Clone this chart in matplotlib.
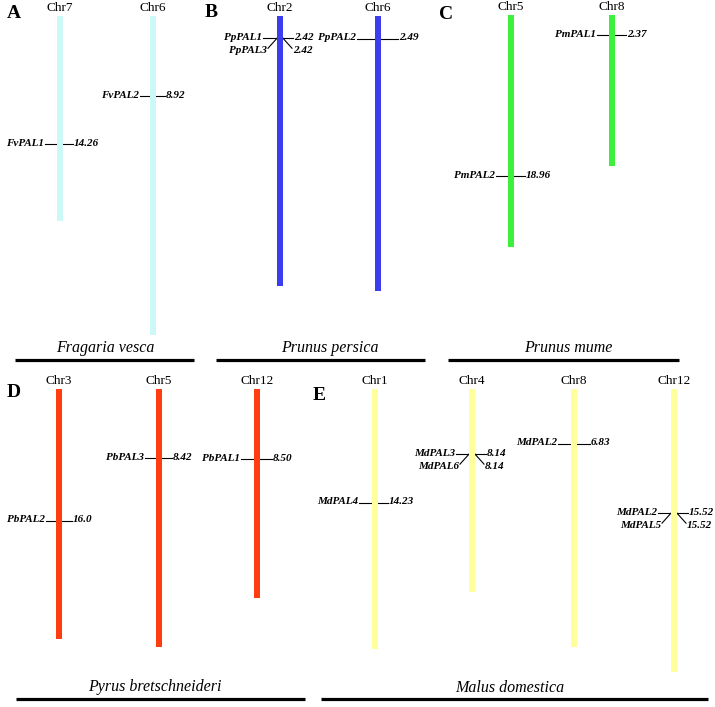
import matplotlib.pyplot as plt

plt.rcParams['font.family'] = ['Liberation Serif', 'DejaVu Serif']

# chromosome lengths (Mb) and PAL gene positions (Mb), one set per species
fv_chr = ['Chr7', 'Chr6']
fv_len = [22.8, 35.4]
fv_gene = ['FvPAL1', 'FvPAL2']
fv_gene_chr = ['Chr7', 'Chr6']
fv_gene_pos = ['14.26', '8.92']

pp_chr = ['Chr2', 'Chr6']
pp_len = [29.3, 29.9]
pp_gene = ['PpPAL1', 'PpPAL3', 'PpPAL2']
pp_gene_chr = ['Chr2', 'Chr2', 'Chr6']
pp_gene_pos = ['2.42', '2.42', '2.49']

pm_chr = ['Chr5', 'Chr8']
pm_len = [27.3, 17.8]
pm_gene = ['PmPAL2', 'PmPAL1']
pm_gene_chr = ['Chr5', 'Chr8']
pm_gene_pos = ['18.96', '2.37']

pb_chr = ['Chr3', 'Chr5', 'Chr12']
pb_len = [30.3, 31.3, 25.3]
pb_gene = ['PbPAL2', 'PbPAL3', 'PbPAL1']
pb_gene_chr = ['Chr3', 'Chr5', 'Chr12']
pb_gene_pos = ['16.0', '8.42', '8.50']

md_chr = ['Chr1', 'Chr4', 'Chr8', 'Chr12']
md_len = [32.5, 25.4, 32.2, 35.4]
md_gene = ['MdPAL4', 'MdPAL3', 'MdPAL6', 'MdPAL2', 'MdPAL2', 'MdPAL5']
md_gene_chr = ['Chr1', 'Chr4', 'Chr4', 'Chr8', 'Chr12', 'Chr12']
md_gene_pos = ['14.23', '8.14', '8.14', '6.83', '15.52', '15.52']

W, H = 715, 707
fig = plt.figure(figsize=(W / 100, H / 100), dpi=100)

# background axes in pixel units for titles and underlines
base = fig.add_axes([0, 0, 1, 1])
base.set_xlim(0, W)
base.set_ylim(H, 0)
base.axis('off')

gene_font = dict(fontsize=8.0, fontweight='bold', style='italic', va='center')


def panel(chrs, lens, genes, gchr, gpos, xs, top, scale, color, ticks=None):
    # each panel gets its own y scale (Mb), top of chromosomes at pixel `top`
    ax = fig.add_axes([0, 0, 1, 1])
    ax.patch.set_alpha(0)
    ax.set_xlim(0, W)
    ax.set_ylim((H - top) / scale, -top / scale)
    ax.axis('off')
    ax.bar(xs, lens, width=6, bottom=0, color=color, zorder=2)
    for x, c in zip(xs, chrs):
        ax.text(x, -2 / scale, c, ha='center', va='bottom', fontsize=9.5)
    if ticks is None:
        ticks = [(12, 11)] * len(chrs)
    seen = []
    for g, c, p in zip(genes, gchr, gpos):
        i = chrs.index(c)
        x = xs[i]
        tl, tr = ticks[i]
        y = float(p)
        if (c, p) not in seen:
            seen.append((c, p))
            ax.plot([x - 3 - tl, x + 3 + tr], [y, y], color='black', lw=0.8, zorder=1)
            ax.text(x - 3 - tl - 1, y - 1 / scale, g, ha='right', **gene_font)
            ax.text(x + 3 + tr + 1, y - 1 / scale, p, ha='left', **gene_font)
        else:
            dy = 10 / scale
            ax.plot([x - 12, x - 3], [y + dy, y], color='black', lw=0.8, zorder=1)
            ax.plot([x + 3, x + 12], [y, y + dy], color='black', lw=0.8, zorder=1)
            ax.text(x - 13, y + 12 / scale, g, ha='right', **gene_font)
            ax.text(x + 13, y + 12 / scale, p, ha='left', **gene_font)


panel(fv_chr, fv_len, fv_gene, fv_gene_chr, fv_gene_pos, [60, 153], 16, 9.0, '#cdf8f8',
      ticks=[(12, 10), (10, 9)])
panel(pp_chr, pp_len, pp_gene, pp_gene_chr, pp_gene_pos, [280, 378], 16, 9.2, '#3d3df0',
      ticks=[(14, 10), (18, 17)])
panel(pm_chr, pm_len, pm_gene, pm_gene_chr, pm_gene_pos, [511, 612], 15, 8.5, '#3cf03c')
panel(pb_chr, pb_len, pb_gene, pb_gene_chr, pb_gene_pos, [59, 159, 257], 389, 8.25, '#ff3d10',
      ticks=[(10, 10), (11, 10), (13, 12)])
panel(md_chr, md_len, md_gene, md_gene_chr, md_gene_pos, [375, 472, 574, 674], 389, 8.0, '#ffff9c',
      ticks=[(13, 10), (13, 11), (13, 13), (13, 11)])

# panel letters
for letter, x, y in [('A', 7, 5), ('B', 205, 4), ('C', 439, 6), ('D', 7, 384), ('E', 313, 387)]:
    base.text(x, y, letter, fontsize=14, fontweight='bold', ha='left', va='top')

# species names with underlines
species = [('Fragaria vesca', 105, 348, 15, 194, 360),
           ('Prunus persica', 330, 348, 216, 425, 360),
           ('Prunus mume', 568, 348, 448, 679, 360),
           ('Pyrus bretschneideri', 155, 687, 16, 305, 699),
           ('Malus domestica', 510, 688, 321, 708, 699)]
for name, cx, cy, x0, x1, ly in species:
    base.text(cx, cy, name, fontsize=11.5, style='italic', ha='center', va='center')
    base.plot([x0, x1], [ly, ly], color='black', lw=2.3, solid_capstyle='butt')

fig.savefig('out.png', dpi=100)
